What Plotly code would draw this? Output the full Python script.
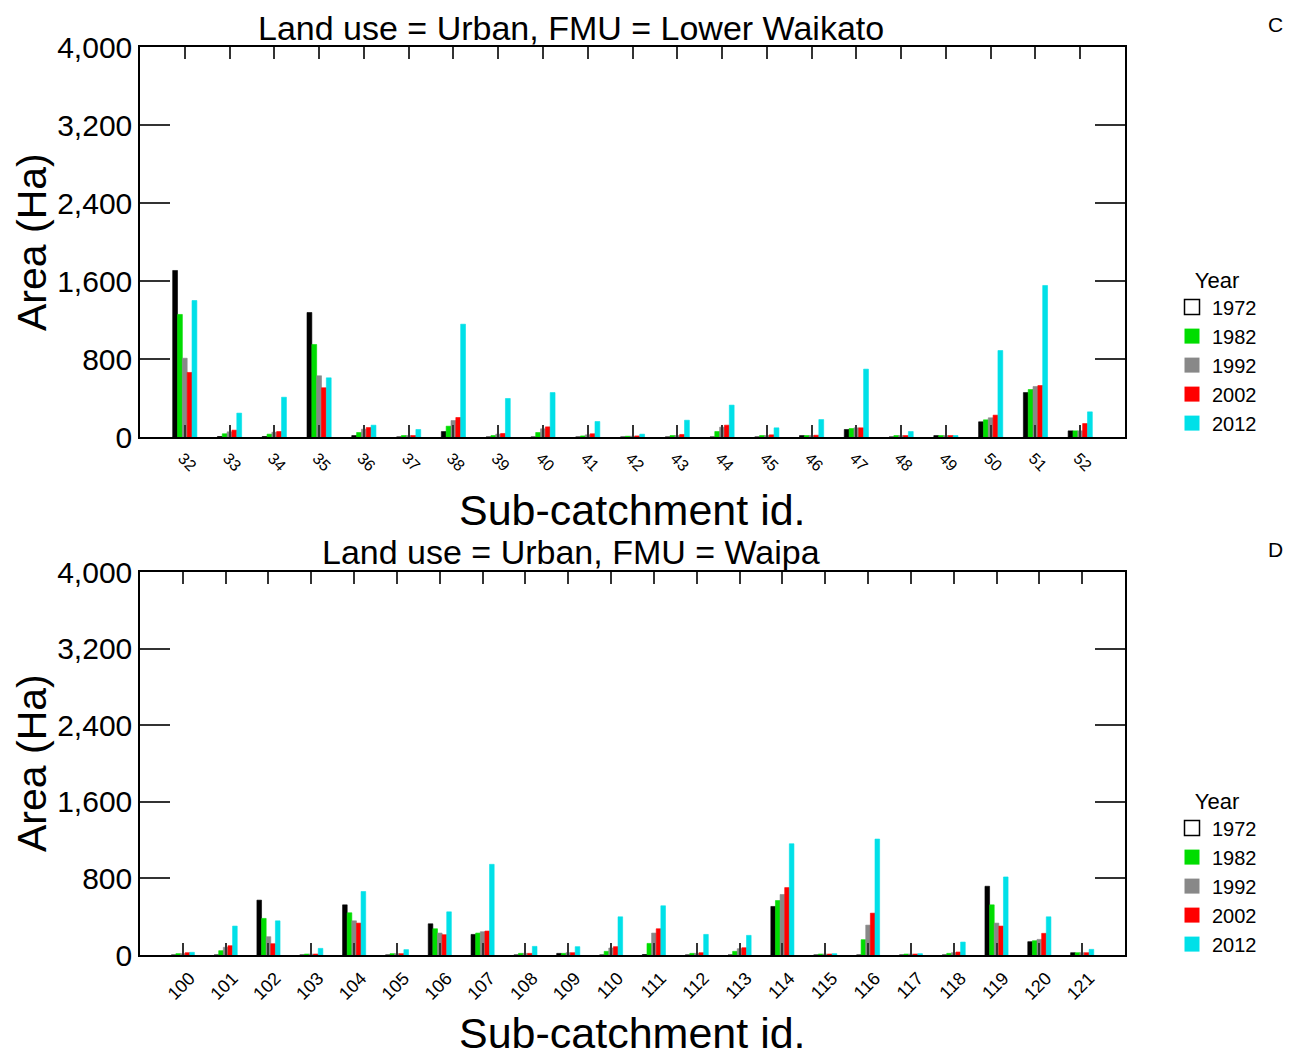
import plotly.graph_objects as go

# page offset of the plot div (body margin) and figure size
OFF = 8
W, H = 1295 - OFF, 1057 - OFF
FONT = "Liberation Sans, Arial, Helvetica, sans-serif"

years = ["1972", "1982", "1992", "2002", "2012"]
colors = ["#000000", "#00DD00", "#888888", "#FF0000", "#00E0E8"]

# Panel C: Lower Waikato
cats_c = [str(i) for i in range(32, 53)]
c_1972 = [1708, 5, 5, 1277, 15, 0, 56, 0, 0, 0, 0, 0, 0, 0, 15, 77, 0, 15, 156, 456, 63]
c_1982 = [1257, 33, 29, 949, 46, 15, 111, 15, 46, 11, 8, 15, 56, 15, 15, 87, 15, 15, 176, 487, 63]
c_1992 = [808, 53, 49, 628, 80, 15, 169, 29, 84, 22, 8, 15, 101, 15, 15, 94, 15, 15, 197, 518, 63]
c_2002 = [662, 70, 56, 505, 97, 15, 200, 36, 104, 33, 11, 26, 121, 22, 18, 94, 15, 15, 224, 528, 138]
c_2012 = [1400, 245, 408, 607, 121, 77, 1157, 395, 456, 159, 29, 172, 327, 94, 179, 696, 56, 15, 887, 1554, 258]

# Panel D: Waipa
cats_d = [str(i) for i in range(100, 122)]
d_1972 = [0, 0, 573, 0, 524, 0, 326, 215, 0, 17, 0, 5, 0, 0, 507, 0, 0, 0, 0, 718, 139, 24]
d_1982 = [14, 45, 382, 10, 441, 14, 274, 229, 17, 17, 38, 121, 17, 38, 569, 10, 160, 10, 17, 524, 149, 24]
d_1992 = [14, 80, 191, 10, 357, 14, 229, 243, 17, 24, 73, 229, 17, 66, 632, 10, 312, 10, 24, 333, 163, 24]
d_2002 = [24, 97, 118, 10, 333, 14, 212, 250, 17, 24, 87, 274, 24, 76, 704, 10, 437, 10, 31, 302, 226, 24]
d_2012 = [28, 302, 357, 69, 663, 56, 451, 947, 90, 87, 399, 514, 215, 205, 1162, 14, 1211, 14, 135, 815, 399, 59]

y_ticks = [0, 800, 1600, 2400, 3200, 4000]


def px(x):
    return (x - OFF) / W


def py(y):
    return 1 - (y - OFF) / H


fig = go.Figure()

series_c = [c_1972, c_1982, c_1992, c_2002, c_2012]
series_d = [d_1972, d_1982, d_1992, d_2002, d_2012]

for yr, col, vals in zip(years, colors, series_c):
    fig.add_trace(go.Bar(x=cats_c, y=vals, name=yr,
                         marker=dict(color=col, line=dict(color=col, width=0.6)),
                         xaxis="x", yaxis="y", showlegend=False))
for yr, col, vals in zip(years, colors, series_d):
    fig.add_trace(go.Bar(x=cats_d, y=vals, name=yr,
                         marker=dict(color=col, line=dict(color=col, width=0.6)),
                         xaxis="x2", yaxis="y2", showlegend=False))

# legend entries (1972 shown as an open square, as in the reference)
for lg in ["legend", "legend2"]:
    for i, (yr, col) in enumerate(zip(years, colors)):
        if i == 0:
            mk = dict(symbol="square-open", color="#000000", size=15, line=dict(width=1.5, color="#000000"))
        else:
            mk = dict(symbol="square", color=col, size=15, line=dict(width=0))
        fig.add_trace(go.Scatter(x=[None], y=[None], mode="markers", marker=mk, name=yr,
                                 legend=lg, xaxis="x" if lg == "legend" else "x2",
                                 yaxis="y" if lg == "legend" else "y2", showlegend=True))

xdom = [px(140), px(1125)]
axis_common = dict(showline=True, linecolor="#000000", linewidth=1.5, mirror="ticks",
                   ticks="inside", tickcolor="#333333", showgrid=False, zeroline=False)

legend_common = dict(xanchor="left", yanchor="top",
                     title=dict(text="Year", font=dict(size=22, family=FONT), side="top center"),
                     font=dict(size=20, family=FONT), tracegroupgap=0, itemwidth=30,
                     bgcolor="rgba(0,0,0,0)")

fig.update_layout(
    width=W, height=H,
    margin=dict(l=0, r=0, t=0, b=0, autoexpand=False),
    paper_bgcolor="white", plot_bgcolor="white",
    font=dict(family=FONT, color="#000000"),
    barmode="group", bargap=0.46, bargroupgap=0.0,
    xaxis=dict(domain=xdom, anchor="y", type="category", range=[-1, 21], tickangle=45,
               ticklen=12, tickwidth=1.5, tickfont=dict(size=16, family=FONT),
               ticklabelshift=-2, ticklabelstandoff=4, **axis_common),
    yaxis=dict(domain=[py(437), py(47)], anchor="x", range=[0, 4000], tickvals=y_ticks,
               tickformat=",", ticklen=30, tickwidth=1.5, tickfont=dict(size=30, family=FONT),
               **axis_common),
    xaxis2=dict(domain=xdom, anchor="y2", type="category", range=[-1, 22], tickangle=-45,
                ticklen=12, tickwidth=1.5, tickfont=dict(size=18, family=FONT),
                ticklabelshift=7, ticklabelstandoff=4, **axis_common),
    yaxis2=dict(domain=[py(955), py(572)], anchor="x2", range=[0, 4000], tickvals=y_ticks,
                tickformat=",", ticklen=30, tickwidth=1.5, tickfont=dict(size=30, family=FONT),
                **axis_common),
    legend=dict(x=px(1172), y=py(259), **legend_common),
    legend2=dict(x=px(1172), y=py(780), **legend_common),
    showlegend=True,
)

annots = [
    dict(text="Land use = Urban, FMU = Lower Waikato", x=px(571), y=py(28), size=34),
    dict(text="Land use = Urban, FMU = Waipa", x=px(571), y=py(552), size=34),
    dict(text="Sub-catchment id.", x=px(632), y=py(510), size=43),
    dict(text="Sub-catchment id.", x=px(632), y=py(1033), size=43),
    dict(text="C", x=px(1275), y=py(25), size=21),
    dict(text="D", x=px(1275), y=py(549), size=21),
]
for a in annots:
    fig.add_annotation(text=a["text"], x=a["x"], y=a["y"], xref="paper", yref="paper",
                       xanchor="center", yanchor="middle", showarrow=False,
                       font=dict(size=a["size"], family=FONT, color="#000000"))
for yc in [242, 763]:
    fig.add_annotation(text="Area (Ha)", x=px(32), y=py(yc), xref="paper", yref="paper",
                       xanchor="center", yanchor="middle", showarrow=False, textangle=-90,
                       font=dict(size=41, family=FONT, color="#000000"))

fig.write_html("out.html")
